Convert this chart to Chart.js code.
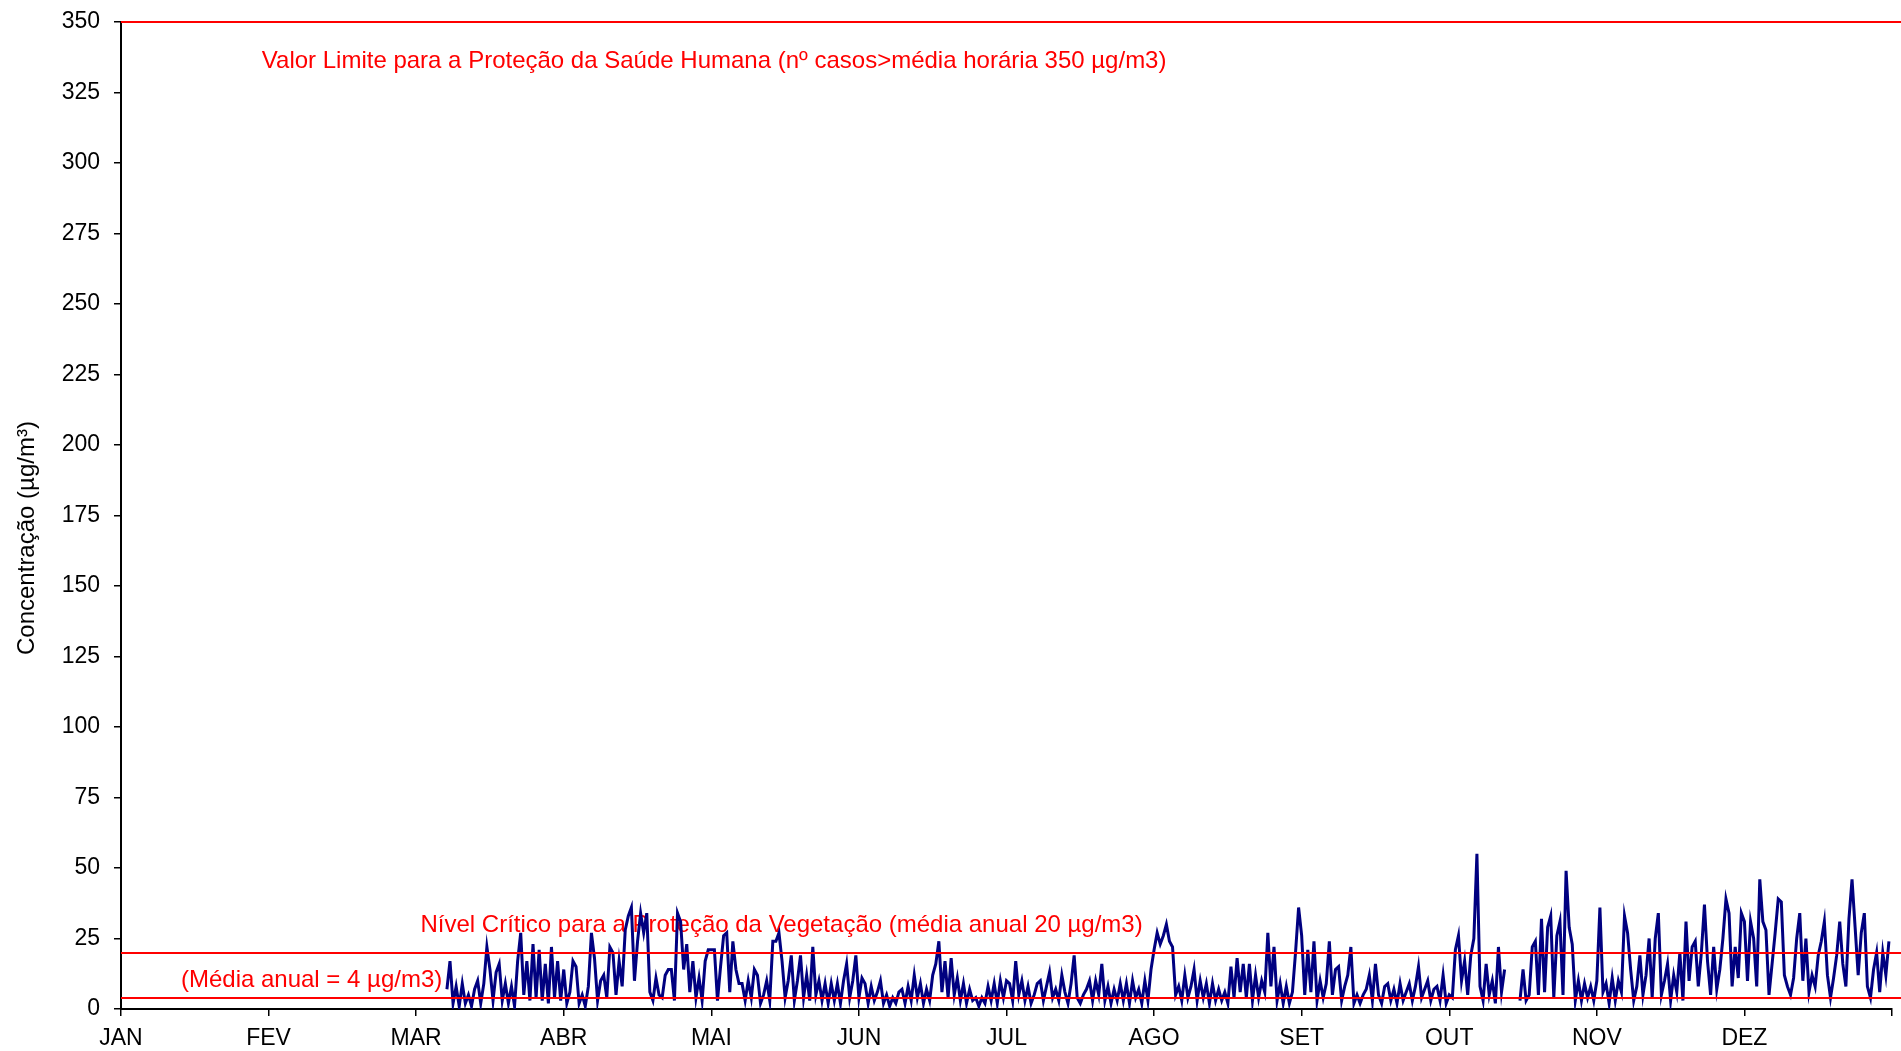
<!DOCTYPE html>
<html>
<head>
<meta charset="utf-8">
<title>Concentração</title>
<script src="https://cdn.jsdelivr.net/npm/chart.js@4.4.0/dist/chart.umd.min.js"></script>
<style>
  body { margin: 0; background: #fff; }
  #wrap { width: 1901px; height: 1051px; position: relative; }
</style>
</head>
<body>
<div id="wrap"><canvas id="conc"></canvas></div>
<script>
//month labels on the x axis
var months = ["JAN", "FEV", "MAR", "ABR", "MAI", "JUN", "JUL", "AGO", "SET", "OUT", "NOV", "DEZ"];
//steps per month (about every 15 hours)
var stepsPerMonth = 48;

//values, one list per month (null = no data)
var jan = [];
var fev = [];
var mar = [null, null, null, null, null, null, null, null, null, null,
  7, 17, 2, 8, 1, 9, 2, 5, 1, 7, 10, 2, 9, 22, 14, 3, 13, 16, 3, 9,
  2, 8, 1, 17, 27, 5, 17, 3, 23, 4, 21, 3, 16, 2, 22, 4, 17, 3];
var abr = [14, 2, 6, 17, 15, 2, 5, 1, 8, 27, 18, 3, 10, 12, 4, 22, 20, 5, 17, 8,
  28, 33, 36, 10, 24, 34, 27, 34, 6, 3, 11, 5, 4, 12, 14, 14, 3, 34, 31, 14,
  23, 6, 17, 4, 11, 3, 17, 21];
var mai = [21, 21, 3, 15, 26, 27, 6, 24, 14, 9, 9, 3, 10, 4, 14, 12, 2, 5, 10, 3,
  24, 24, 27, 17, 4, 10, 19, 3, 10, 19, 4, 12, 3, 22, 5, 10, 3, 9, 2, 9,
  3, 9, 2, 10, 16, 4, 10, 19];
var jun = [4, 11, 9, 2, 8, 3, 6, 10, 2, 5, 1, 4, 2, 6, 7, 2, 8, 3, 12, 4,
  9, 2, 7, 3, 12, 16, 24, 6, 17, 4, 18, 5, 11, 3, 9, 2, 7, 3, 4, 1,
  4, 2, 8, 3, 9, 2, 10, 4];
var jul = [10, 9, 3, 17, 5, 10, 3, 8, 2, 5, 9, 10, 3, 8, 13, 4, 7, 3, 12, 6,
  2, 9, 19, 4, 2, 5, 7, 10, 3, 10, 5, 16, 3, 8, 2, 7, 3, 9, 3, 9,
  2, 10, 4, 7, 2, 10, 3, 14];
var ago = [21, 27, 23, 26, 30, 24, 22, 5, 8, 3, 12, 4, 8, 14, 3, 10, 4, 9, 2, 9,
  3, 7, 3, 6, 2, 15, 4, 18, 6, 16, 4, 16, 3, 12, 4, 10, 6, 27, 8, 22,
  3, 9, 2, 8, 2, 6, 20, 36];
var set = [26, 5, 21, 6, 24, 3, 10, 4, 9, 24, 5, 14, 15, 3, 8, 12, 22, 2, 5, 2,
  5, 7, 12, 3, 16, 5, 2, 8, 9, 3, 7, 2, 9, 3, 6, 9, 3, 8, 15, 4,
  7, 10, 3, 7, 8, 3, 12, 2];
var out = [5, 4, 21, 26, 10, 17, 5, 19, 25, 55, 8, 3, 16, 5, 10, 2, 22, 6, 14, null,
  null, null, null, 3, 14, 3, 5, 22, 24, 5, 32, 6, 29, 33, 4, 26, 31, 5, 49, 29,
  23, 3, 10, 3, 9, 4, 8, 3];
var nov = [10, 36, 6, 9, 2, 11, 3, 10, 6, 33, 27, 14, 3, 8, 19, 5, 12, 25, 4, 25,
  34, 5, 10, 16, 3, 12, 6, 20, 3, 31, 10, 22, 24, 8, 20, 37, 17, 5, 22, 7,
  14, 25, 39, 34, 8, 22, 11, 34];
var dez = [31, 10, 31, 25, 8, 46, 31, 28, 5, 16, 27, 39, 38, 12, 8, 5, 11, 25, 34, 10,
  25, 6, 12, 8, 19, 24, 31, 12, 4, 11, 19, 31, 16, 8, 32, 46, 29, 12, 27, 34,
  8, 4, 14, 20, 6, 20, 12, 24];

//reference levels (red lines)
var limitValues = [350, 20, 4];
//red texts and where they sit (x in steps, y in µg/m3)
var noteTexts = [
  "Valor Limite para a Proteção da Saúde Humana (nº casos>média horária 350 µg/m3)",
  "Nível Crítico para a Proteção da Vegetação (média anual 20 µg/m3)",
  "(Média anual = 4 µg/m3)"
];
var noteX = [45.8, 97.4, 19.5];
var noteY = [336, 29.6, 10.2];

var yTitle = "Concentração (µg/m³)";
var yTicksMax = 350;
var yTicksStep = 25;

//build the points from the month lists
function buildPoints(){
    var byMonth = [jan, fev, mar, abr, mai, jun, jul, ago, set, out, nov, dez];
    var pts = [];
    for(let m = 0; m < byMonth.length; m++){
        for(let j = 0; j < byMonth[m].length; j++){
            pts.push({x: m * stepsPerMonth + j, y: byMonth[m][j]});
        }
    }
    return pts;
}

var fontFam = '"Liberation Sans", Arial, sans-serif';

//texts under the data, red lines over it
var notesPlugin = {
    id: "notes",
    beforeDatasetsDraw: function(chart){
        var ctx = chart.ctx;
        var xs = chart.scales.x, ys = chart.scales.y;
        ctx.save();
        ctx.font = "24px " + fontFam;
        ctx.fillStyle = "#ff0000";
        ctx.textAlign = "left";
        ctx.textBaseline = "middle";
        for(let i = 0; i < noteTexts.length; i++){
            ctx.fillText(noteTexts[i], xs.getPixelForValue(noteX[i]), ys.getPixelForValue(noteY[i]));
        }
        ctx.restore();
        // y axis title, a bit below the axis middle like the original
        ctx.save();
        ctx.font = "24px " + fontFam;
        ctx.fillStyle = "#000";
        ctx.textAlign = "center";
        ctx.textBaseline = "middle";
        ctx.translate(27, ys.getPixelForValue(167));
        ctx.rotate(-Math.PI / 2);
        ctx.fillText(yTitle, 0, 0);
        ctx.restore();
    },
    afterDatasetsDraw: function(chart){
        var ctx = chart.ctx;
        var ys = chart.scales.y;
        ctx.save();
        ctx.strokeStyle = "#ff0000";
        ctx.lineWidth = 2;
        for(let i = 0; i < limitValues.length; i++){
            var py = Math.round(ys.getPixelForValue(limitValues[i]));
            ctx.beginPath();
            ctx.moveTo(chart.chartArea.left, py);
            ctx.lineTo(chart.width, py);
            ctx.stroke();
        }
        ctx.restore();
    }
};

window.onload = init;
function init(){
    new Chart("conc", {
        type: "line",
        data: {
            datasets: [{
                data: buildPoints(),
                borderColor: "#000080",
                borderWidth: 3,
                pointRadius: 0,
                tension: 0,
                spanGaps: false
            }]
        },
        options: {
            responsive: true,
            maintainAspectRatio: false,
            animation: false,
            layout: {padding: {top: 22, right: 4, left: 0, bottom: 0}},
            plugins: {legend: {display: false}, tooltip: {enabled: false}},
            scales: {
                x: {
                    type: "linear",
                    min: 0,
                    max: months.length * stepsPerMonth,
                    afterFit: function(s){ s.height = 42; },
                    grid: {drawOnChartArea: false, tickLength: 7, color: "#000", lineWidth: 1.5},
                    border: {color: "#000", width: 2},
                    ticks: {
                        stepSize: stepsPerMonth,
                        autoSkip: false,
                        maxRotation: 0,
                        padding: 9,
                        color: "#000",
                        font: {size: 23, family: fontFam},
                        callback: function(v){ return months[v / stepsPerMonth] || ""; }
                    }
                },
                y: {
                    min: 0,
                    max: yTicksMax,
                    afterFit: function(s){
                        s.width = 121;
                        s.paddingTop = 0;
                        s.paddingBottom = 0;
                    },
                    grid: {drawOnChartArea: false, tickLength: 7, color: "#000", lineWidth: 1.5},
                    border: {color: "#000", width: 2},
                    ticks: {
                        stepSize: yTicksStep,
                        padding: 14,
                        color: "#000",
                        font: {size: 23, family: fontFam}
                    }
                }
            }
        },
        plugins: [notesPlugin]
    });
}
</script>
</body>
</html>
